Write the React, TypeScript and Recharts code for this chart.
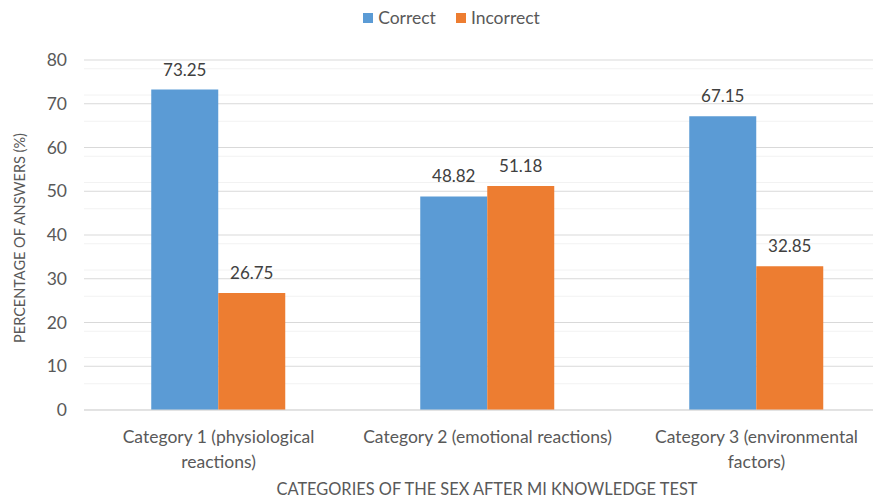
import { BarChart, Bar, XAxis, YAxis, CartesianGrid, Legend, LabelList } from 'recharts';

const categories = [
  'Category 1 (physiological\nreactions)',
  'Category 2 (emotional reactions)',
  'Category 3 (environmental\nfactors)',
];
const correct = [73.25, 48.82, 67.15];
const incorrect = [26.75, 51.18, 32.85];
const yTicks = [0, 10, 20, 30, 40, 50, 60, 70, 80];
const minorTicks = [2, 4, 6, 8, 12, 14, 16, 18, 22, 24, 26, 28, 32, 34, 36, 38, 42, 44, 46, 48, 52, 54, 56, 58, 62, 64, 66, 68, 72, 74, 76, 78];

const data = categories.map((name, i) => ({ name, correct: correct[i], incorrect: incorrect[i] }));

const BLUE = '#5b9bd5';
const ORANGE = '#ed7d31';
const TEXT = '#595959';
const FONT = 'Lato, "Open Sans", sans-serif';

const CategoryTick = (props: any) => {
  const { x, y, payload } = props;
  const lines = String(payload.value).split('\n');
  return (
    <g transform={`translate(${x},${y})`}>
      {lines.map((line, i) => (
        <text key={i} x={0} y={31 + i * 25} textAnchor="middle" fill={TEXT} fontSize={17.5} fontFamily={FONT}>
          {line}
        </text>
      ))}
    </g>
  );
};

const LegendContent = () => (
  <div style={{ height: 60, display: 'flex', justifyContent: 'center', alignItems: 'flex-start', paddingTop: 7, paddingLeft: 12, boxSizing: 'border-box', fontFamily: FONT, fontSize: 17.5, color: TEXT }}>
    <span style={{ display: 'flex', alignItems: 'center', marginRight: 20 }}>
      <span style={{ width: 10, height: 10, background: BLUE, marginRight: 5 }} />Correct
    </span>
    <span style={{ display: 'flex', alignItems: 'center' }}>
      <span style={{ width: 10, height: 10, background: ORANGE, marginRight: 5 }} />Incorrect
    </span>
  </div>
);

export default function App() {
  return (
    <div style={{ position: 'absolute', left: 0, top: 0, width: 873, height: 499, overflow: 'hidden', background: '#fff' }}>
      <BarChart
        width={900}
        height={499}
        data={data}
        margin={{ top: 0, right: 9, left: 0, bottom: 0 }}
        barCategoryGap="25%"
        barGap={0}
      >
        <Legend verticalAlign="top" content={<LegendContent />} />
        <CartesianGrid vertical={false} stroke="#f2f2f2" horizontalValues={minorTicks} />
        <CartesianGrid vertical={false} stroke="#d9d9d9" />
        <XAxis
          dataKey="name"
          height={89}
          axisLine={{ stroke: '#d9d9d9' }}
          tickLine={false}
          tickSize={0}
          tick={<CategoryTick />}
          interval={0}
          label={() => (
            <text x={487} y={495} textAnchor="middle" fill={TEXT} fontSize={16.4} fontFamily={FONT}>
              CATEGORIES OF THE SEX AFTER MI KNOWLEDGE TEST
            </text>
          )}
        />
        <YAxis
          width={84}
          domain={[0, 80]}
          ticks={yTicks}
          axisLine={false}
          tickLine={false}
          tickSize={0}
          tickMargin={17}
          tick={{ fill: TEXT, fontSize: 17.5, fontFamily: FONT }}
          label={() => (
            <text x={25} y={238} transform="rotate(-90 25 238)" textAnchor="middle" fill={TEXT} fontSize={14.5} fontFamily={FONT}>
              PERCENTAGE OF ANSWERS (%)
            </text>
          )}
        />
        <Bar dataKey="correct" fill={BLUE} isAnimationActive={false}>
          <LabelList dataKey="correct" position="top" offset={14} fill="#404040" fontSize={17} fontFamily={FONT} formatter={(v: any) => Number(v).toFixed(2)} />
        </Bar>
        <Bar dataKey="incorrect" fill={ORANGE} isAnimationActive={false}>
          <LabelList dataKey="incorrect" position="top" offset={14} fill="#404040" fontSize={17} fontFamily={FONT} formatter={(v: any) => Number(v).toFixed(2)} />
        </Bar>
      </BarChart>
    </div>
  );
}
